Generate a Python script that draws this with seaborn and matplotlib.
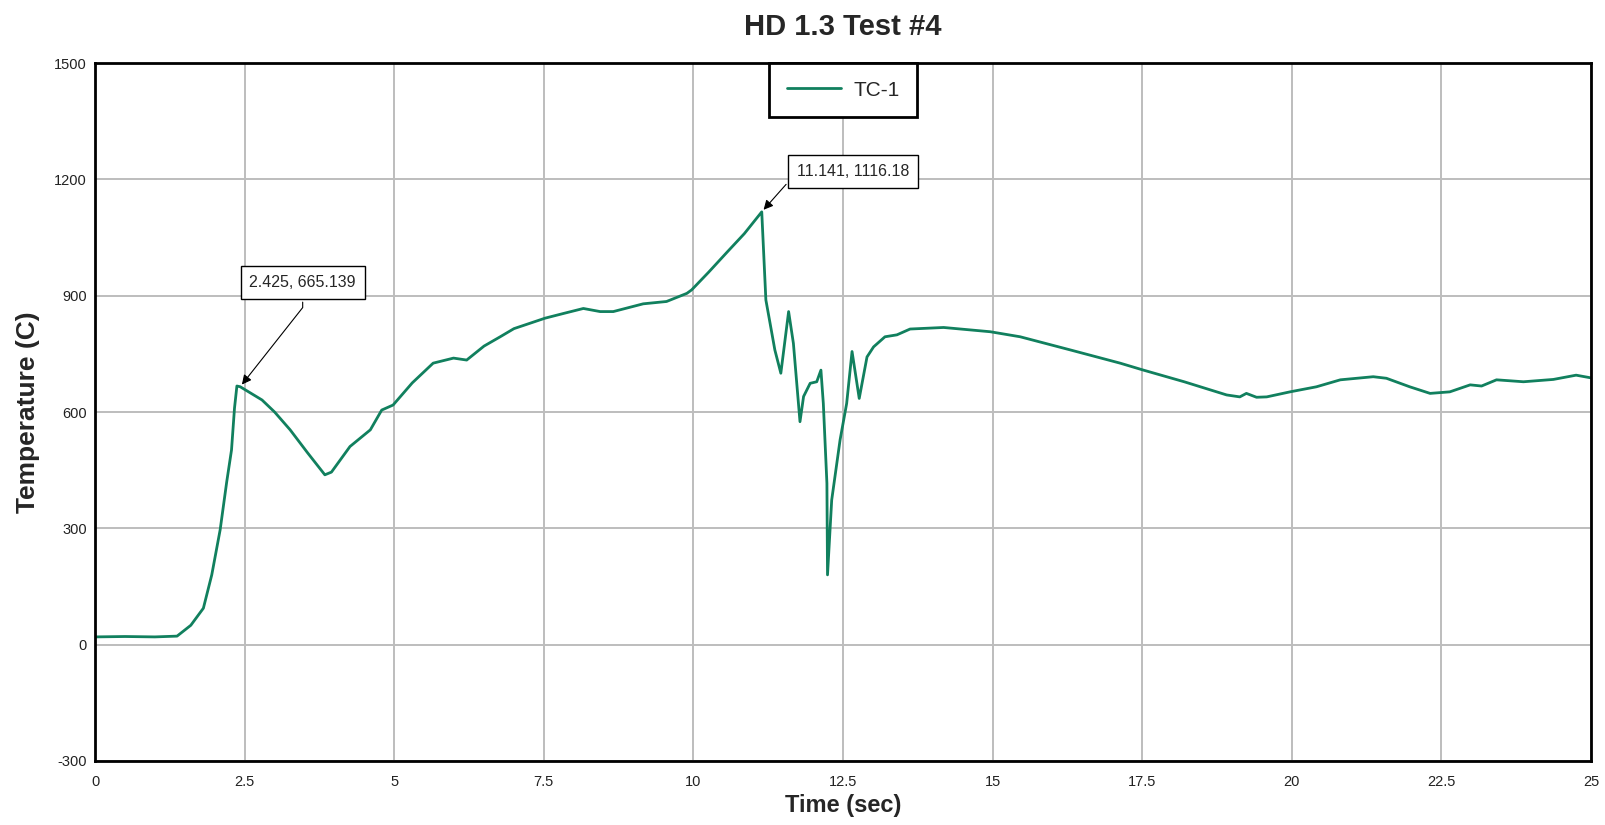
import numpy as np
import pandas as pd
import matplotlib
matplotlib.use("Agg")
import matplotlib.pyplot as plt
import seaborn as sns

# Values
time_sec = [0.0, 0.5, 1.0, 1.37, 1.6, 1.81, 1.95, 2.09, 2.20, 2.28, 2.33, 2.37, 2.425,
            2.79, 3.0, 3.26, 3.55, 3.84, 3.95, 4.26, 4.60, 4.79, 4.98, 5.30, 5.65,
            5.99, 6.21, 6.5, 6.77, 7.0, 7.27, 7.52, 7.85, 8.16, 8.44, 8.66, 9.16,
            9.55, 9.89, 9.97, 10.25, 10.56, 10.85, 11.141, 11.21, 11.28, 11.36, 11.46,
            11.59, 11.67, 11.78, 11.84, 11.95, 12.06, 12.13, 12.17, 12.23, 12.24,
            12.31, 12.45, 12.56, 12.65, 12.77, 12.90, 13.01, 13.20, 13.40, 13.62,
            14.18, 14.96, 15.46, 16.3, 17.13, 17.52, 18.2, 18.91, 19.13, 19.24,
            19.41, 19.58, 19.97, 20.41, 20.81, 21.36, 21.58, 21.97, 22.31, 22.64,
            22.98, 23.17, 23.42, 23.87, 24.37, 24.75, 25.0]
temp_c = [20, 21, 20, 22, 50, 94, 180, 296, 420, 502, 610, 667, 665.139,
          631, 600, 554, 495, 438, 445, 511, 554, 605, 618, 675, 726,
          739, 734, 770, 794, 815, 829, 842, 855, 867, 859, 859, 879,
          885, 906, 915, 960, 1012, 1060, 1116.18, 889, 829, 760, 700,
          859, 777, 575, 640, 674, 678, 708, 622, 416, 180,
          373, 528, 622, 756, 635, 742, 768, 794, 799, 814,
          818, 807, 794, 760, 726, 708, 678, 644, 639, 648,
          638, 639, 652, 665, 683, 691, 687, 665, 648, 652,
          670, 667, 683, 678, 684, 695, 688]

# annotated points
peak_times = [2.425, 11.141]
peak_temps = [665.139, 1116.18]

x_ticks = [0, 2.5, 5, 7.5, 10, 12.5, 15, 17.5, 20, 22.5, 25]
x_tick_labels = ["0", "2.5", "5", "7.5", "10", "12.5", "15", "17.5", "20", "22.5", "25"]
y_ticks = [-300, 0, 300, 600, 900, 1200, 1500]

df = pd.DataFrame({"Time (sec)": time_sec, "Temperature (C)": temp_c})

sns.set_theme(style="whitegrid")
plt.rcParams['font.family'] = ['Liberation Sans', 'DejaVu Sans']
plt.rcParams['axes.unicode_minus'] = False

fig = plt.figure(figsize=(16.06, 8.25), dpi=100)
ax = fig.add_axes([0.0592, 0.0776, 0.9315, 0.846])

sns.lineplot(data=df, x="Time (sec)", y="Temperature (C)", ax=ax,
             color="#11805E", linewidth=2.0, label="TC-1")

ax.set_xlim(0, 25)
ax.set_ylim(-300, 1500)
ax.set_xticks(x_ticks)
ax.set_xticklabels(x_tick_labels)
ax.set_yticks(y_ticks)
ax.tick_params(axis="both", length=0, labelsize=10.5, colors="#222222")
ax.tick_params(axis="x", pad=10)
ax.tick_params(axis="y", pad=6)

ax.grid(True, color="#BDBDBD", linewidth=1.4)
ax.set_facecolor("white")
for sp in ax.spines.values():
    sp.set_color("black")
    sp.set_linewidth(2)

ax.set_title("HD 1.3 Test #4", fontsize=21, fontweight="bold", pad=20)
ax.set_xlabel("Time (sec)", fontsize=17, fontweight="bold", labelpad=4)
ax.set_ylabel("Temperature (C)", fontsize=19, fontweight="bold", labelpad=10)

leg = ax.legend(loc="upper center", bbox_to_anchor=(0.5, 1.0), borderaxespad=0,
                fontsize=15, handlelength=2.6, fancybox=False, framealpha=1,
                borderpad=0.85, handletextpad=0.6)
leg.get_frame().set_edgecolor("black")
leg.get_frame().set_linewidth(2)

# boxed value labels with arrows
box = dict(boxstyle="square,pad=0.55", fc="white", ec="black", lw=1)
offsets = [(45, 75), (66, 29)]
styles = ["arc,angleA=-90,angleB=0,armA=25,armB=0,rad=0",
          "arc,angleA=180,angleB=0,armA=56,armB=0,rad=0"]
for t, v, off, cs in zip(peak_times, peak_temps, offsets, styles):
    ax.annotate(f"{t:g}, {v:g}", xy=(t, v), xytext=off, textcoords="offset points",
                ha="center", va="center", fontsize=11.5, bbox=box,
                arrowprops=dict(arrowstyle="-|>", color="black", lw=0.8,
                                mutation_scale=14, connectionstyle=cs))

fig.savefig("out.png", dpi=100)
